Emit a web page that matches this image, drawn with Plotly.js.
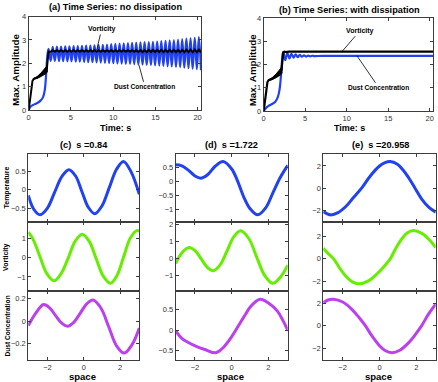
<!DOCTYPE html>
<html><head><meta charset="utf-8">
<script src="https://cdn.plot.ly/plotly-3.0.1.min.js"></script>
<style>html,body{margin:0;padding:0;background:#fff}#chart{width:438px;height:382px}</style>
</head><body><div id="chart"></div>
<script>
// ---------------- DATA ----------------
// (a) Time series, no dissipation
const aBlueT0 = [0, 0.1, 0.3, 0.6, 1.0, 1.4, 1.7, 1.9, 2.0, 2.1, 2.2];
const aBlueV0 = [0, 0.08, 0.17, 0.23, 0.3, 0.4, 0.55, 0.85, 1.2, 1.75, 2.3];
const aPeakT = [2.35, 2.84, 3.34, 3.83, 4.33, 4.82, 5.32, 5.81, 6.31, 6.80, 7.30, 7.79, 8.28, 8.78, 9.27, 9.77, 10.26, 10.76, 11.25, 11.75, 12.24, 12.73, 13.23, 13.72, 14.22, 14.71, 15.21, 15.70, 16.20, 16.69, 17.19, 17.68, 18.17, 18.67, 19.16, 19.66, 20.15];
const aBluePeak = [2.62, 2.70, 2.71, 2.71, 2.72, 2.72, 2.73, 2.73, 2.74, 2.75, 2.76, 2.77, 2.78, 2.79, 2.80, 2.82, 2.83, 2.84, 2.85, 2.86, 2.87, 2.88, 2.89, 2.90, 2.91, 2.92, 2.93, 2.95, 2.96, 2.98, 2.99, 3.01, 3.03, 3.05, 3.07, 3.09, 3.12];
const aTroughT = [2.60, 3.09, 3.59, 4.08, 4.58, 5.07, 5.57, 6.06, 6.56, 7.05, 7.55, 8.04, 8.53, 9.03, 9.52, 10.02, 10.51, 11.01, 11.50, 12.00, 12.49, 12.98, 13.48, 13.97, 14.47, 14.96, 15.46, 15.95, 16.45, 16.94, 17.44, 17.93, 18.42, 18.92, 19.41, 19.91, 20.40];
const aBlueTrough = [2.10, 2.10, 2.09, 2.09, 2.08, 2.08, 2.07, 2.07, 2.06, 2.05, 2.05, 2.04, 2.03, 2.02, 2.01, 2.00, 1.99, 1.98, 1.97, 1.97, 1.96, 1.95, 1.94, 1.93, 1.92, 1.91, 1.90, 1.89, 1.87, 1.86, 1.84, 1.83, 1.81, 1.79, 1.77, 1.75, 1.70];
const aBlackT0 = [0, 0.15, 0.3, 0.45, 0.6, 1.0, 1.5, 2.0, 2.15, 2.25];
const aBlackV0 = [0, 0.45, 0.95, 1.25, 1.33, 1.39, 1.52, 1.66, 1.78, 2.1];
const aBlackPeak = [2.50, 2.56, 2.56, 2.56, 2.56, 2.56, 2.56, 2.56, 2.56, 2.56, 2.56, 2.56, 2.56, 2.56, 2.56, 2.56, 2.56, 2.56, 2.56, 2.56, 2.56, 2.56, 2.56, 2.56, 2.57, 2.57, 2.57, 2.57, 2.57, 2.57, 2.57, 2.57, 2.57, 2.58, 2.58, 2.58, 2.58];
const aBlackTrough = [2.49, 2.49, 2.49, 2.49, 2.49, 2.49, 2.49, 2.49, 2.49, 2.49, 2.49, 2.49, 2.49, 2.49, 2.49, 2.49, 2.49, 2.49, 2.49, 2.49, 2.49, 2.48, 2.48, 2.48, 2.48, 2.48, 2.48, 2.48, 2.48, 2.48, 2.47, 2.47, 2.47, 2.47, 2.47, 2.47, 2.47];
const bandT = [0.6, 1.0, 1.5, 2.0, 2.2];
const bandLo = [1.32, 1.35, 1.44, 1.55, 1.62];
const bandHi = [1.35, 1.43, 1.60, 1.80, 1.90];

// (b) Time series, with dissipation
const bBlueT = [0, 0.2, 0.5, 1.0, 1.4, 1.7, 1.9, 2.05, 2.15, 2.25, 2.35, 2.6, 2.85, 3.1, 3.35, 3.6, 3.85, 4.1, 4.35, 4.6, 4.85, 5.1, 5.35, 5.6, 5.85, 6.1, 7, 10, 15, 20.4];
const bBlueV = [0, 0.1, 0.2, 0.3, 0.4, 0.6, 0.9, 1.4, 1.9, 2.35, 2.55, 2.2, 2.5, 2.27, 2.47, 2.3, 2.44, 2.32, 2.42, 2.34, 2.4, 2.35, 2.39, 2.36, 2.385, 2.37, 2.38, 2.38, 2.38, 2.38];
const bBlackT = [0, 0.15, 0.3, 0.45, 0.6, 1.0, 1.5, 2.0, 2.15, 2.25, 2.35, 2.5, 2.7, 3.0, 20.4];
const bBlackV = [0, 0.45, 0.95, 1.25, 1.33, 1.39, 1.52, 1.66, 1.78, 2.1, 2.5, 2.56, 2.54, 2.56, 2.56];

// (c) s = 0.84
const cTempX = [-3.05, -2.75, -2.4, -2.0, -1.6, -1.2, -0.82, -0.45, -0.1, 0.25, 0.6, 1.0, 1.4, 1.8, 2.18, 2.6, 3.05];
const cTempY = [-0.15, -0.52, -0.67, -0.49, -0.06, 0.36, 0.54, 0.37, -0.05, -0.47, -0.64, -0.43, 0.06, 0.55, 0.76, 0.48, -0.12];
const cVortX = [-3.05, -2.8, -2.42, -2.03, -1.64, -1.25, -0.86, -0.48, -0.09, 0.3, 0.68, 1.07, 1.46, 1.82, 2.19, 2.55, 2.91, 3.05];
const cVortY = [1.32, 0.98, 0.08, -0.83, -1.2, -0.83, -0.02, 0.85, 1.22, 0.85, -0.05, -0.96, -1.33, -0.93, 0.05, 1.01, 1.41, 1.38];
const cDustX = [-3.05, -2.65, -2.21, -1.88, -1.55, -1.23, -0.9, -0.55, -0.2, 0.16, 0.51, 0.94, 1.37, 1.79, 2.22, 2.65, 3.05];
const cDustY = [-0.04, 0.07, 0.15, 0.12, 0.05, -0.016, -0.045, -0.01, 0.07, 0.155, 0.19, 0.118, -0.05, -0.218, -0.285, -0.21, -0.06];

// (d) s = 1.722
const dTempX = [-3.05, -2.75, -2.35, -2.0, -1.67, -1.3, -0.9, -0.46, 0.0, 0.3, 0.65, 1.0, 1.42, 1.85, 2.25, 2.65, 3.05];
const dTempY = [0.6, 0.57, 0.4, 0.2, 0.12, 0.25, 0.55, 0.72, 0.45, 0.05, -0.55, -0.98, -1.2, -0.95, -0.4, 0.15, 0.58];
const dVortX = [-3.05, -2.7, -2.31, -1.98, -1.65, -1.33, -1.0, -0.63, -0.25, 0.12, 0.49, 0.93, 1.36, 1.8, 2.23, 2.65, 3.05];
const dVortY = [-0.3, 0.35, 0.64, 0.44, -0.04, -0.52, -0.72, -0.38, 0.45, 1.28, 1.62, 1.17, 0.08, -1.01, -1.46, -1.1, -0.39];
const dDustX = [-3.05, -2.72, -2.36, -1.9, -1.46, -0.87, -0.5, 0.0, 0.5, 0.73, 1.0, 1.54, 2.0, 2.5, 2.8, 3.05];
const dDustY = [-0.02, -0.2, -0.3, -0.4, -0.47, -0.55, -0.44, -0.16, 0.2, 0.36, 0.55, 0.74, 0.65, 0.45, 0.22, 0.0];

// (e) s = 20.958
const eTempX = [-3.05, -2.66, -2.25, -1.8, -1.4, -0.95, -0.5, 0.0, 0.3, 0.58, 0.95, 1.3, 1.6, 1.93, 2.3, 2.7, 3.05];
const eTempY = [-2.1, -2.4, -2.2, -1.6, -0.82, 0.05, 1.1, 2.0, 2.3, 2.4, 2.18, 1.6, 0.9, 0.0, -1.0, -1.75, -2.16];
const eVortX = [-3.05, -2.8, -2.49, -2.15, -1.75, -1.45, -1.14, -0.6, -0.1, 0.2, 0.58, 0.9, 1.2, 1.5, 1.84, 2.3, 2.7, 3.05];
const eVortY = [0.96, 0.5, 0.0, -0.87, -1.71, -2.1, -2.25, -1.98, -1.3, -0.77, 0.0, 1.0, 1.78, 2.33, 2.55, 2.3, 1.72, 1.02];
const eDustX = [-3.05, -2.8, -2.5, -2.0, -1.5, -1.1, -0.77, -0.4, 0.0, 0.3, 0.67, 1.1, 1.6, 2.0, 2.29, 2.65, 3.05];
const eDustY = [2.04, 2.28, 2.35, 2.1, 1.45, 0.7, 0.0, -0.94, -1.79, -2.21, -2.4, -2.19, -1.49, -0.67, 0.0, 1.0, 1.9];

const timeTicks = [0, 5, 10, 15, 20];
const ampTicks = [0, 1, 2, 3, 4];
const spaceTicks = [-2, 0, 2];

// ---------------- DRAWING ----------------
const W = 438, H = 382;
const FONT = '"Liberation Sans", Arial, Helvetica, sans-serif';
const BLUE = '#2142f2', GREEN = '#66ee00', PURPLE = '#bb40ee', FRAME = '#3c3c3c';
const px = x => x / W, py = y => 1 - y / H;

function merge(t0, v0, t1, v1, t2, v2) {
  const pts = [];
  t1.forEach((t, i) => pts.push([t, v1[i]]));
  t2.forEach((t, i) => pts.push([t, v2[i]]));
  pts.sort((a, b) => a[0] - b[0]);
  return {x: t0.concat(pts.map(p => p[0])), y: v0.concat(pts.map(p => p[1]))};
}

const traces = [];
// (a)
const aBlue = merge(aBlueT0, aBlueV0, aPeakT, aBluePeak, aTroughT, aBlueTrough);
const aBlack = merge(aBlackT0, aBlackV0, aPeakT, aBlackPeak, aTroughT, aBlackTrough);
const bandX = bandT.concat(bandT.slice().reverse());
const bandY = bandHi.concat(bandLo.slice().reverse());
traces.push({x: aBlue.x, y: aBlue.y, xaxis: 'x', yaxis: 'y', mode: 'lines', line: {color: BLUE, width: 2.2, shape: 'spline'}});
traces.push({x: bandX, y: bandY, xaxis: 'x', yaxis: 'y', mode: 'lines', fill: 'toself', fillcolor: '#000', line: {color: '#000', width: 1}});
traces.push({x: aBlack.x, y: aBlack.y, xaxis: 'x', yaxis: 'y', mode: 'lines', line: {color: '#000', width: 2}});
// (b)
traces.push({x: bBlueT, y: bBlueV, xaxis: 'x2', yaxis: 'y2', mode: 'lines', line: {color: BLUE, width: 2.2, shape: 'spline'}});
traces.push({x: bandX, y: bandY, xaxis: 'x2', yaxis: 'y2', mode: 'lines', fill: 'toself', fillcolor: '#000', line: {color: '#000', width: 1}});
traces.push({x: bBlackT, y: bBlackV, xaxis: 'x2', yaxis: 'y2', mode: 'lines', line: {color: '#000', width: 2.2}});

const colsX = [[28.3, 139.3], [175.7, 287.7], [323.3, 435.7]];
const rowsY = [[154, 222.3], [222.3, 291], [291, 360.3]];
const panels = [
  [cTempX, cTempY, BLUE, [-0.87, 0.96], [-0.5, 0, 0.5]],
  [cVortX, cVortY, GREEN, [-1.73, 1.84], [-1, 0, 1]],
  [cDustX, cDustY, PURPLE, [-0.35, 0.27], [-0.2, 0, 0.2]],
  [dTempX, dTempY, BLUE, [-1.47, 0.99], [-1, -0.5, 0, 0.5]],
  [dVortX, dVortY, GREEN, [-1.91, 2.12], [-1, 0, 1, 2]],
  [dDustX, dDustY, PURPLE, [-0.73, 0.94], [-0.5, 0, 0.5]],
  [eTempX, eTempY, BLUE, [-3.07, 3.08], [-2, 0, 2]],
  [eVortX, eVortY, GREEN, [-2.9, 3.3], [-2, 0, 2]],
  [eDustX, eDustY, PURPLE, [-3.08, 3.08], [-2, 0, 2]]
];

function ax(extra) {
  return Object.assign({showline: true, mirror: 'ticks', linecolor: FRAME, linewidth: 1,
    ticks: 'inside', ticklen: 3, tickwidth: 1, tickcolor: FRAME, showgrid: false, zeroline: false,
    tickfont: {family: FONT, size: 7.5, color: '#333'}, fixedrange: true}, extra);
}

const layout = {
  width: W, height: H, margin: {l: 0, r: 0, t: 0, b: 0}, showlegend: false,
  paper_bgcolor: '#fff', plot_bgcolor: '#fff', font: {family: FONT},
  xaxis: ax({domain: [px(28.7), px(201)], range: [0, 20.4], tickvals: timeTicks, anchor: 'y'}),
  yaxis: ax({domain: [py(110), py(16.5)], range: [0, 4], tickvals: ampTicks, anchor: 'x'}),
  xaxis2: ax({domain: [px(263.7), px(433)], range: [0, 20.4], tickvals: timeTicks, anchor: 'y2'}),
  yaxis2: ax({domain: [py(111), py(18.3)], range: [0, 4], tickvals: ampTicks, anchor: 'x2'}),
  annotations: []
};

panels.forEach((p, i) => {
  const col = Math.floor(i / 3), row = i % 3, n = i + 3;
  const xa = 'xaxis' + n, ya = 'yaxis' + n;
  layout[xa] = ax({domain: [px(colsX[col][0]), px(colsX[col][1])], range: [-3.05, 3.05], tickvals: spaceTicks,
    showticklabels: row === 2, anchor: 'y' + n});
  layout[ya] = ax({domain: [py(rowsY[row][1]), py(rowsY[row][0])], range: p[3], tickvals: p[4], anchor: 'x' + n});
  traces.push({x: p[0], y: p[1], xaxis: 'x' + n, yaxis: 'y' + n, mode: 'lines',
    line: {color: p[2], width: 3, shape: 'spline', smoothing: 1}});
});

function label(text, x, y, size, angle) {
  layout.annotations.push({text: '<b>' + text + '</b>', x: px(x), y: py(y), xref: 'paper', yref: 'paper',
    xanchor: 'center', yanchor: 'middle', showarrow: false, textangle: angle || 0,
    font: {family: FONT, size: size, color: '#000'}});
}
label('(a) Time Series: no dissipation', 115.5, 7.5, 9.2);
label('(b) Time Series: with dissipation', 349.7, 9.5, 9.2);
label('(c)\u00a0 s =0.84', 83.5, 145, 9.2);
label('(d)\u00a0 s =1.722', 231.7, 145, 9.2);
label('(e)\u00a0 s =20.958', 380, 145, 9.2);
label('Max. Amplitude', 15, 70, 9.8, -90);
label('Max. Amplitude', 252.3, 70, 9.8, -90);
label('Time: s', 115.5, 128, 9);
label('Time: s', 349.3, 128, 9);
label('Temperature', 6.5, 188, 7, -90);
label('Vorticity', 5.5, 257.5, 7, -90);
label('Dust Concentration', 6.5, 326, 6.6, -90);
label('space', 82.5, 376, 9.5);
label('space', 230.5, 376, 9.5);
label('space', 378.8, 376, 9.5);

function pointer(text, xr, yr, x, y, dx, dy, size) {
  layout.annotations.push({text: '<b>' + text + '</b>', xref: xr, yref: yr, x: x, y: y, ax: dx, ay: dy,
    showarrow: true, arrowhead: 0, arrowwidth: 0.8, arrowcolor: '#000', standoff: 0,
    font: {family: FONT, size: size, color: '#000'}});
}
pointer('Vorticity', 'x', 'y', 8.05, 2.57, 5, -21, 7);
pointer('Dust Concentration', 'x', 'y', 13.05, 1.93, 6, 22, 6.6);
pointer('Vorticity', 'x2', 'y2', 9.43, 2.56, 18, -21, 7);
pointer('Dust Concentration', 'x2', 'y2', 11.24, 2.38, 22, 32, 6.6);

Plotly.newPlot('chart', traces, layout, {staticPlot: true, displayModeBar: false});
</script></body></html>
